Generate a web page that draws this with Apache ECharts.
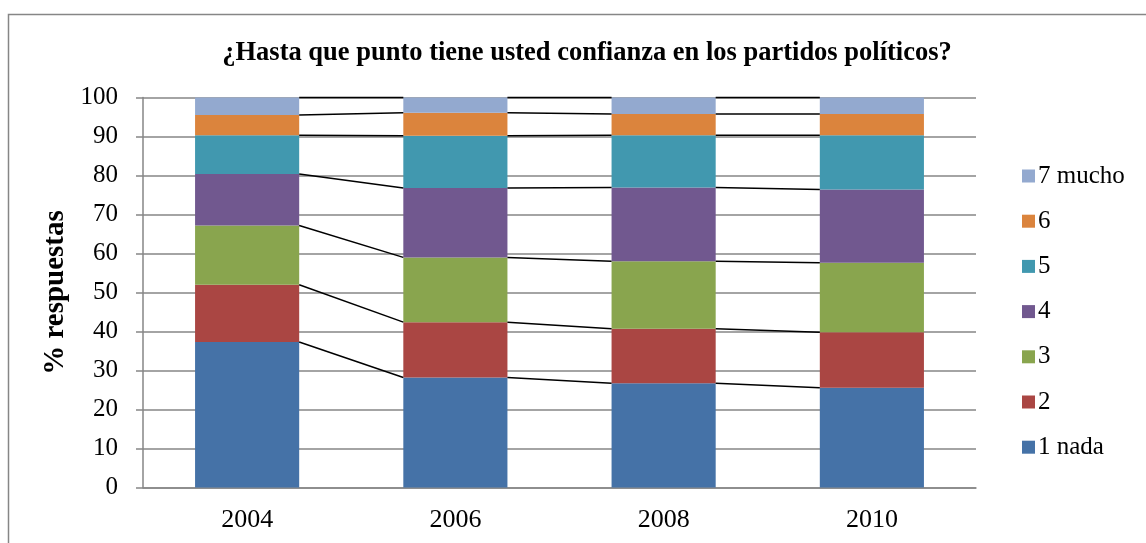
<!DOCTYPE html>
<html>
<head>
<meta charset="utf-8">
<script src="https://cdn.jsdelivr.net/npm/echarts@6/dist/echarts.min.js"></script>
<style>
html,body{margin:0;padding:0;background:#fff;}
#c{width:1146px;height:543px;}
</style>
</head>
<body>
<div id="c"></div>
<script>
var categories = ['2004', '2006', '2008', '2010'];
var seriesNames = ['1 nada', '2', '3', '4', '5', '6', '7 mucho'];
var nada1 = [37.3, 28.2, 26.7, 25.6];
var v2 = [14.7, 14.2, 14.0, 14.2];
var v3 = [15.2, 16.6, 17.3, 17.8];
var v4 = [13.2, 17.8, 18.9, 18.8];
var v5 = [9.9, 13.4, 13.4, 13.9];
var v6 = [5.2, 5.9, 5.5, 5.5];
var mucho7 = [4.5, 3.9, 4.2, 4.2];
var yTicks = [0, 10, 20, 30, 40, 50, 60, 70, 80, 90, 100];

var values = [nada1, v2, v3, v4, v5, v6, mucho7];
var colors = ['#4572A7', '#AA4643', '#89A54E', '#71588F', '#4198AF', '#DB843D', '#93A9CF'];
var FONT = 'Liberation Serif';

// cumulative tops per category
var cum = categories.map(function (c, i) {
  var s = 0, arr = [];
  values.forEach(function (v) { s += v[i]; arr.push(s); });
  return arr;
});

var series = values.map(function (v, k) {
  return {
    name: seriesNames[k],
    type: 'bar',
    stack: 'total',
    barWidth: '50%',
    data: v,
    itemStyle: { color: colors[k] },
    z: 2
  };
});

var linkData = [];
for (var i = 0; i < categories.length - 1; i++) linkData.push([i, 0]);

series.push({
  type: 'custom',
  name: 'seriesLines',
  data: linkData,
  encode: { x: 0, y: 1 },
  z: 5,
  silent: true,
  renderItem: function (params, api) {
    var i = params.dataIndex;
    var half = api.size([1, 0])[0] * 0.25;
    var children = [];
    for (var k = 0; k < values.length; k++) {
      var p1 = api.coord([i, cum[i][k]]);
      var p2 = api.coord([i + 1, cum[i + 1][k]]);
      children.push({
        type: 'line',
        shape: { x1: p1[0] + half, y1: p1[1], x2: p2[0] - half, y2: p2[1] },
        style: { stroke: '#000', lineWidth: 1.5 }
      });
    }
    return { type: 'group', children: children };
  }
});

var chart = echarts.init(document.getElementById('c'), null, { renderer: 'canvas' });
chart.setOption({
  animation: false,
  backgroundColor: '#fff',
  textStyle: { fontFamily: FONT },
  title: {
    text: '¿Hasta que punto tiene usted confianza en los partidos políticos?',
    left: 582,
    textAlign: 'center',
    top: 35,
    textStyle: { fontFamily: FONT, fontWeight: 'bold', fontSize: 26.5, color: '#000' }
  },
  legend: {
    orient: 'vertical',
    left: 1017,
    top: 158.5,
    itemWidth: 13,
    itemHeight: 13,
    itemGap: 20.2,
    icon: 'rect',
    data: seriesNames.slice().reverse(),
    textStyle: { fontFamily: FONT, fontSize: 25, color: '#000', lineHeight: 25, padding: [0, 0, 0, -2] }
  },
  grid: { left: 143, right: 170, top: 97.5, bottom: 55.5, containLabel: false },
  xAxis: {
    type: 'category',
    data: categories,
    axisLine: { lineStyle: { color: '#868686', width: 1.5 } },
    axisTick: { show: false },
    axisLabel: { color: '#000', fontSize: 26, fontFamily: FONT, margin: 20 }
  },
  yAxis: {
    type: 'value',
    min: 0,
    max: 100,
    interval: 10,
    name: '% respuestas',
    nameLocation: 'middle',
    nameGap: 68,
    nameRotate: 90,
    nameTextStyle: { fontFamily: FONT, fontWeight: 'bold', fontSize: 29, color: '#000' },
    axisLine: { show: true, lineStyle: { color: '#868686', width: 1.5 } },
    axisTick: { show: true, length: 7, lineStyle: { color: '#868686', width: 1.5 } },
    axisLabel: {
      color: '#000', fontSize: 25, fontFamily: FONT, margin: 25,
      formatter: function (v) { return yTicks.indexOf(v) >= 0 ? String(v) : ''; }
    },
    splitLine: { lineStyle: { color: '#868686', width: 1.5 } }
  },
  graphic: [{
    type: 'rect',
    shape: { x: 8.5, y: 14.5, width: 1200, height: 600 },
    style: { fill: 'none', stroke: '#868686', lineWidth: 1.5 },
    silent: true,
    z: -1
  }],
  series: series
});
</script>
</body>
</html>
